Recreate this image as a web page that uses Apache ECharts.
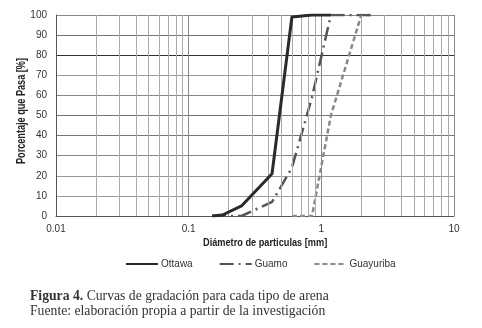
<!DOCTYPE html>
<html>
<head>
<meta charset="utf-8">
<script src="https://cdn.jsdelivr.net/npm/echarts@6/dist/echarts.min.js"></script>
<style>
  html, body { margin: 0; padding: 0; background: #fff; }
  #chart { width: 482px; height: 328px; }
</style>
</head>
<body>
<div id="chart"></div>
<script>
// tamaños de tamiz [mm] y porcentaje que pasa
const ottawaSize = [0.15, 0.18, 0.25, 0.425, 0.6, 0.85, 1.18];
const ottawaPass = [0, 0.5, 5, 21, 99, 100, 100];

const guamoSize = [0.15, 0.18, 0.25, 0.425, 0.6, 0.85, 1.18, 2.0, 2.36];
const guamoPass = [0, 0, 0, 7, 24, 59, 100, 100, 100];

const guayuribaSize = [0.6, 0.85, 1.18, 2.0, 2.36];
const guayuribaPass = [0, 0, 50, 100, 100];

const seriesNames = ['Ottawa', 'Guamo', 'Guayuriba'];

// lineas menores del eje logaritmico (2..9 de cada decada)
const minorGrid = [];
[0.01, 0.1, 1].forEach(d => {
  for (let k = 2; k <= 9; k++) minorGrid.push(+(d * k).toFixed(3));
});

const pairs = (xs, ys) => xs.map((x, i) => [x, ys[i]]);

const font = "'Liberation Sans', Arial, sans-serif";
const serif = "'Liberation Serif', 'DejaVu Serif', serif";

const myChart = echarts.init(document.getElementById('chart'));

const option = {
  animation: false,
  backgroundColor: '#fff',
  grid: {
    left: 56,
    right: 28,
    top: 15,
    bottom: 112,
  },
  legend: {
    data: seriesNames,
    left: 120,
    top: 254,
    itemWidth: 32,
    itemHeight: 10,
    itemGap: 26,
    itemStyle: { color: 'rgba(0,0,0,0)', borderWidth: 0 },
    textStyle: {
      fontFamily: font,
      fontSize: 10,
      color: '#333',
      padding: [0, 0, 0, -2],
    },
  },
  xAxis: {
    type: 'log',
    logBase: 10,
    min: 0.01,
    max: 10,
    axisLine: { show: true, lineStyle: { color: '#555', width: 1 } },
    axisTick: { show: false },
    axisLabel: {
      color: '#333',
      fontFamily: font,
      fontSize: 10,
      margin: 8,
      formatter: v => String(v),
    },
    splitLine: { show: true, lineStyle: { color: '#888', width: 1 } },
  },
  yAxis: {
    type: 'value',
    min: 0,
    max: 100,
    interval: 10,
    axisLine: { show: true, lineStyle: { color: '#555', width: 1 } },
    axisTick: { show: false },
    axisLabel: {
      color: '#333',
      fontFamily: font,
      fontSize: 10,
      margin: 9,
    },
    splitLine: {
      show: true,
      lineStyle: {
        color: ['#888', '#999', '#999', '#888', '#777', '#777', '#888', '#999', '#333', '#777', '#888'],
        width: 1,
      },
    },
  },
  graphic: [
    {
      type: 'text',
      x: 16,
      y: 164,
      rotation: Math.PI / 2,
      scaleX: 0.76,
      style: {
        text: 'Porcentaje que Pasa [%]',
        fontFamily: font,
        fontSize: 12,
        fontWeight: 'bold',
        fill: '#222',
      },
    },
    {
      type: 'text',
      x: 203,
      y: 237,
      scaleX: 0.8,
      style: {
        text: 'Diámetro de particulas [mm]',
        fontFamily: font,
        fontSize: 11.5,
        fontWeight: 'bold',
        fill: '#222',
      },
    },
    {
      type: 'text',
      left: 30,
      top: 289,
      style: {
        text: '{b|Figura 4.} Curvas de gradación para cada tipo de arena\nFuente: elaboración propia a partir de la investigación',
        fontFamily: serif,
        fontSize: 13.7,
        lineHeight: 15,
        fill: '#333',
        rich: {
          b: { fontFamily: serif, fontSize: 13.7, fontWeight: 'bold', fill: '#333' },
        },
      },
    },
  ],
  series: [
    {
      name: 'grid-minor',
      type: 'line',
      data: [],
      silent: true,
      z: 1,
      markLine: {
        silent: true,
        symbol: 'none',
        label: { show: false },
        lineStyle: { color: '#aaa', type: 'solid', width: 1 },
        data: minorGrid.map(v => ({ xAxis: v })),
      },
    },
    {
      name: 'Ottawa',
      type: 'line',
      data: pairs(ottawaSize, ottawaPass),
      symbol: 'none',
      z: 5,
      lineStyle: { color: '#2a2a2a', width: 3, type: 'solid' },
      itemStyle: { color: '#2a2a2a' },
    },
    {
      name: 'Guamo',
      type: 'line',
      data: pairs(guamoSize, guamoPass),
      symbol: 'none',
      z: 4,
      lineStyle: { color: '#555', width: 2.5, type: [14, 5, 2, 5] },
      itemStyle: { color: '#555' },
    },
    {
      name: 'Guayuriba',
      type: 'line',
      data: pairs(guayuribaSize, guayuribaPass),
      symbol: 'none',
      z: 3,
      lineStyle: { color: '#888', width: 2.5, type: [5, 3] },
      itemStyle: { color: '#888' },
    },
  ],
};

myChart.setOption(option);
</script>
</body>
</html>
